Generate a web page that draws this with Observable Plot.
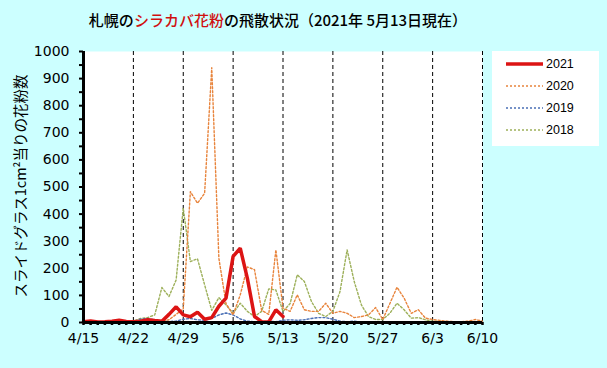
<!DOCTYPE html>
<html><head><meta charset="utf-8">
<script src="https://cdn.jsdelivr.net/npm/d3@7"></script>
<script src="https://cdn.jsdelivr.net/npm/@observablehq/plot@0.6"></script>
<style>
html,body{margin:0;padding:0}
body{background:#ccffff;width:607px;height:368px;overflow:hidden;position:relative;font-family:"DejaVu Sans",sans-serif}
#chart{position:absolute;left:0;top:0}
#title{position:absolute;left:0;width:556px;top:10px;text-align:center;font-family:"Noto Sans CJK JP";font-size:15px;font-weight:500;line-height:20px;color:#000;white-space:nowrap}
#title .hl{color:#d01010}
#ylabel{position:absolute;left:20px;top:186px;transform:translate(-50%,-50%) rotate(-90deg);font-family:"Noto Sans CJK JP";font-size:14.5px;line-height:18px;white-space:nowrap;color:#000}
#legend{position:absolute;left:492px;top:51px;width:107px;height:95px;background:#fff}
.item{position:absolute;left:14px;height:14px;display:flex;align-items:center;font-family:"Liberation Sans",Arial,sans-serif;font-size:12.5px;color:#000}
.item svg{margin-right:2px}
</style>
</head><body>
<div id="chart"></div>
<div id="title">札幌の<span class="hl">シラカバ花粉</span>の飛散状況（2021年 5月13日現在）</div>
<div id="ylabel">スライドグラス1cm²当りの花粉数</div>
<div id="legend"></div>
<script>
// day index 0 = 4/15
const tickLabels = ["4/15","4/22","4/29","5/6","5/13","5/20","5/27","6/3","6/10"];
const weekTicks = [0,7,14,21,28,35,42,49,56];
const years = ["2021","2020","2019","2018"];
const colors = {"2021":"#dc1414","2020":"#e8843c","2019":"#4a6fb5","2018":"#9db05a"};

const v2021 = [3,6,2,3,5,8,4,3,5,10,7,5,30,58,28,21,38,12,18,60,90,244,274,163,22,3,2,47,22];
const v2020 = [5,3,2,3,5,8,5,3,5,8,5,5,10,30,50,483,440,477,940,237,70,28,102,205,195,45,30,268,53,41,102,47,41,41,71,34,41,34,18,22,28,55,11,70,130,90,34,47,16,11,8,5,3,3,5,11,5];
const v2019 = [1,1,1,1,1,2,2,3,12,15,10,6,4,5,12,15,10,8,15,28,35,28,13,5,3,2,5,3,8,10,8,10,15,18,18,12,5,3,5,2,3,2,3,2,2,3,2,3,2,2,2,3,2,2,2,3,2];
const v2018 = [2,3,2,3,2,4,3,5,15,18,28,129,96,157,422,225,235,139,45,92,65,34,71,41,22,41,124,120,41,70,176,151,77,34,22,41,114,268,151,65,22,11,11,34,71,47,16,18,10,5,4,3,3,2,3,2,2];

const yMajor = [0,100,200,300,400,500,600,700,800,900,1000];
const yMinor = d3.range(0, 1001, 50);
const dayTicks = d3.range(0, 57);

const rows = (vals, year) => vals.map((v, i) => ({day: i, value: v, year}));
const dotted = (vals, year) => Plot.lineY(rows(vals, year), {x: "day", y: "value", stroke: colors[year], strokeWidth: 1.4, strokeDasharray: "2,2"});

const chart = Plot.plot({
  width: 607, height: 368,
  marginLeft: 83, marginRight: 125, marginTop: 51, marginBottom: 46,
  style: {background: "transparent", fontFamily: "DejaVu Sans", fontSize: "14px", color: "#000", overflow: "visible"},
  x: {domain: [0, 56], axis: null, label: null},
  y: {domain: [0, 1000], axis: null, label: null},
  marks: [
    Plot.frame({fill: "white", stroke: null}),
    Plot.ruleX(weekTicks.slice(1), {stroke: "#000", strokeWidth: 1, strokeDasharray: "4,3"}),
    dotted(v2018, "2018"),
    dotted(v2019, "2019"),
    dotted(v2020, "2020"),
    Plot.lineY(rows(v2021, "2021"), {x: "day", y: "value", stroke: colors["2021"], strokeWidth: 3.5, strokeLinejoin: "miter"}),
    Plot.axisY({ticks: yMinor, tickSize: 4, tickFormat: () => "", stroke: "#000", strokeWidth: 2, label: null}),
    Plot.axisY({ticks: yMajor, tickSize: 0, tickPadding: 14, fontSize: 14, tickFormat: d3.format("d"), label: null}),
    Plot.axisX({ticks: dayTicks, tickSize: 3, tickFormat: () => "", stroke: "#000", strokeWidth: 2.5, label: null}),
    Plot.axisX({ticks: weekTicks, tickSize: 0, tickPadding: 11, fontSize: 14, tickFormat: d => tickLabels[weekTicks.indexOf(d)], label: null}),
    Plot.ruleX([0], {stroke: "#000", strokeWidth: 3}),
    Plot.ruleY([0], {stroke: "#000", strokeWidth: 3})
  ]
});
document.getElementById("chart").appendChild(chart);

const legend = document.getElementById("legend");
const legendTop = [6, 28, 50, 72];
years.forEach((y, k) => {
  const item = document.createElement("div");
  item.className = "item";
  item.style.top = legendTop[k] + "px";
  const dash = y === "2021" ? "" : 'stroke-dasharray="2,2"';
  const sw = y === "2021" ? 3.5 : 1.4;
  item.innerHTML = `<svg width="38" height="14"><line x1="0" x2="37" y1="7" y2="7" stroke="${colors[y]}" stroke-width="${sw}" ${dash}/></svg><span>${y}</span>`;
  legend.appendChild(item);
});
</script>
</body></html>
